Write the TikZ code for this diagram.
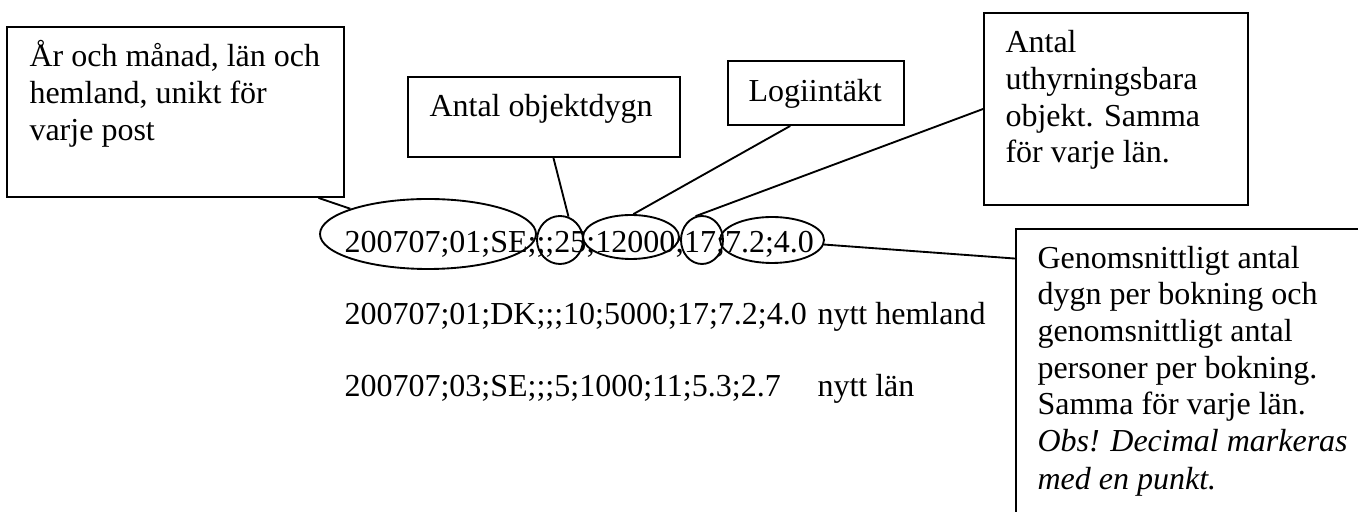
\documentclass[tikz,border=0pt]{standalone}
\usepackage{fontspec}
\setmainfont{Liberation Serif}
\usetikzlibrary{shapes.geometric}
\newcommand{\px}{0.375pt}
\tikzset{
  box/.style={draw, rectangle, inner sep=0pt, line width=0.7pt},
  ring/.style={draw, ellipse, inner sep=0pt, line width=0.7pt},
  txt/.style={anchor=base west, inner sep=0pt, font=\fontsize{12}{14}\selectfont},
  link/.style={line width=0.7pt}
}
\begin{document}
\begin{tikzpicture}[x=0.375pt, y=-0.375pt]
\useasboundingbox (0,0) rectangle (1358,512);
\clip (0,0) rectangle (1358,512);
% rutor
\node[box, minimum width=337*\px, minimum height=170*\px] (nyckel) at (175.5,112) {};
\node[box, minimum width=272*\px, minimum height=80*\px] (dygn) at (544,117) {};
\node[box, minimum width=176*\px, minimum height=64*\px] (logi) at (816,93) {};
\node[box, minimum width=264*\px, minimum height=192*\px] (objekt) at (1116,109) {};
\node[box, minimum width=800*\px, minimum height=600*\px] (snitt) at (1416,529) {};
% text i rutorna
\node[txt] (nyckel1) at (29,67) {År och månad, län och};
\node[txt] (nyckel2) at (29,104) {hemland, unikt för};
\node[txt] (nyckel3) at (29,141) {varje post};
\node[txt] (dygn1) at (429,117) {Antal objektdygn};
\node[txt] (logi1) at (748,102) {Logiintäkt};
\node[txt] (objekt1) at (1005,53) {Antal};
\node[txt] (objekt2) at (1005,90) {uthyrningsbara};
\node[txt] (objekt3) at (1005,127) {objekt. Samma};
\node[txt] (objekt4) at (1005,163) {för varje län.};
\node[txt] (snitt1) at (1037,269) {Genomsnittligt antal};
\node[txt] (snitt2) at (1037,305) {dygn per bokning och};
\node[txt] (snitt3) at (1037,342) {genomsnittligt antal};
\node[txt] (snitt4) at (1037,379) {personer per bokning.};
\node[txt] (snitt5) at (1037,415) {Samma för varje län.};
\node[txt] (snitt6) at (1037,452) {\itshape Obs! Decimal markeras};
\node[txt] (snitt7) at (1037,490) {\itshape med en punkt.};
% poster
\node[txt] (post1) at (344,253) {200707;01;SE;;;25;12000;17;7.2;4.0};
\node[txt] (post2) at (344,325) {200707;01;DK;;;10;5000;17;7.2;4.0};
\node[txt] (post3) at (344,397) {200707;03;SE;;;5;1000;11;5.3;2.7};
\node[txt] (not2) at (817,325) {nytt hemland};
\node[txt] (not3) at (817,397) {nytt län};
% ringar
\node[ring, minimum width=216*\px, minimum height=70*\px] (r1) at (428,234) {};
\node[ring, minimum width=46*\px, minimum height=48*\px] (r2) at (560,240) {};
\node[ring, minimum width=96*\px, minimum height=44*\px] (r3) at (631,237) {};
\node[ring, minimum width=42*\px, minimum height=48*\px] (r4) at (702,240) {};
\node[ring, minimum width=104*\px, minimum height=46*\px] (r5) at (772,240) {};
% linjer
\draw[link] (nyckel.-31) -- (r1.162);
\draw[link] (dygn.-77) -- (r2.70);
\draw[link] (logi.-128) -- (r3.84);
\draw[link] (objekt.180) -- (r4.105);
\draw[link] (r5.-5) -- (snitt.146.1);
\end{tikzpicture}
\end{document}
